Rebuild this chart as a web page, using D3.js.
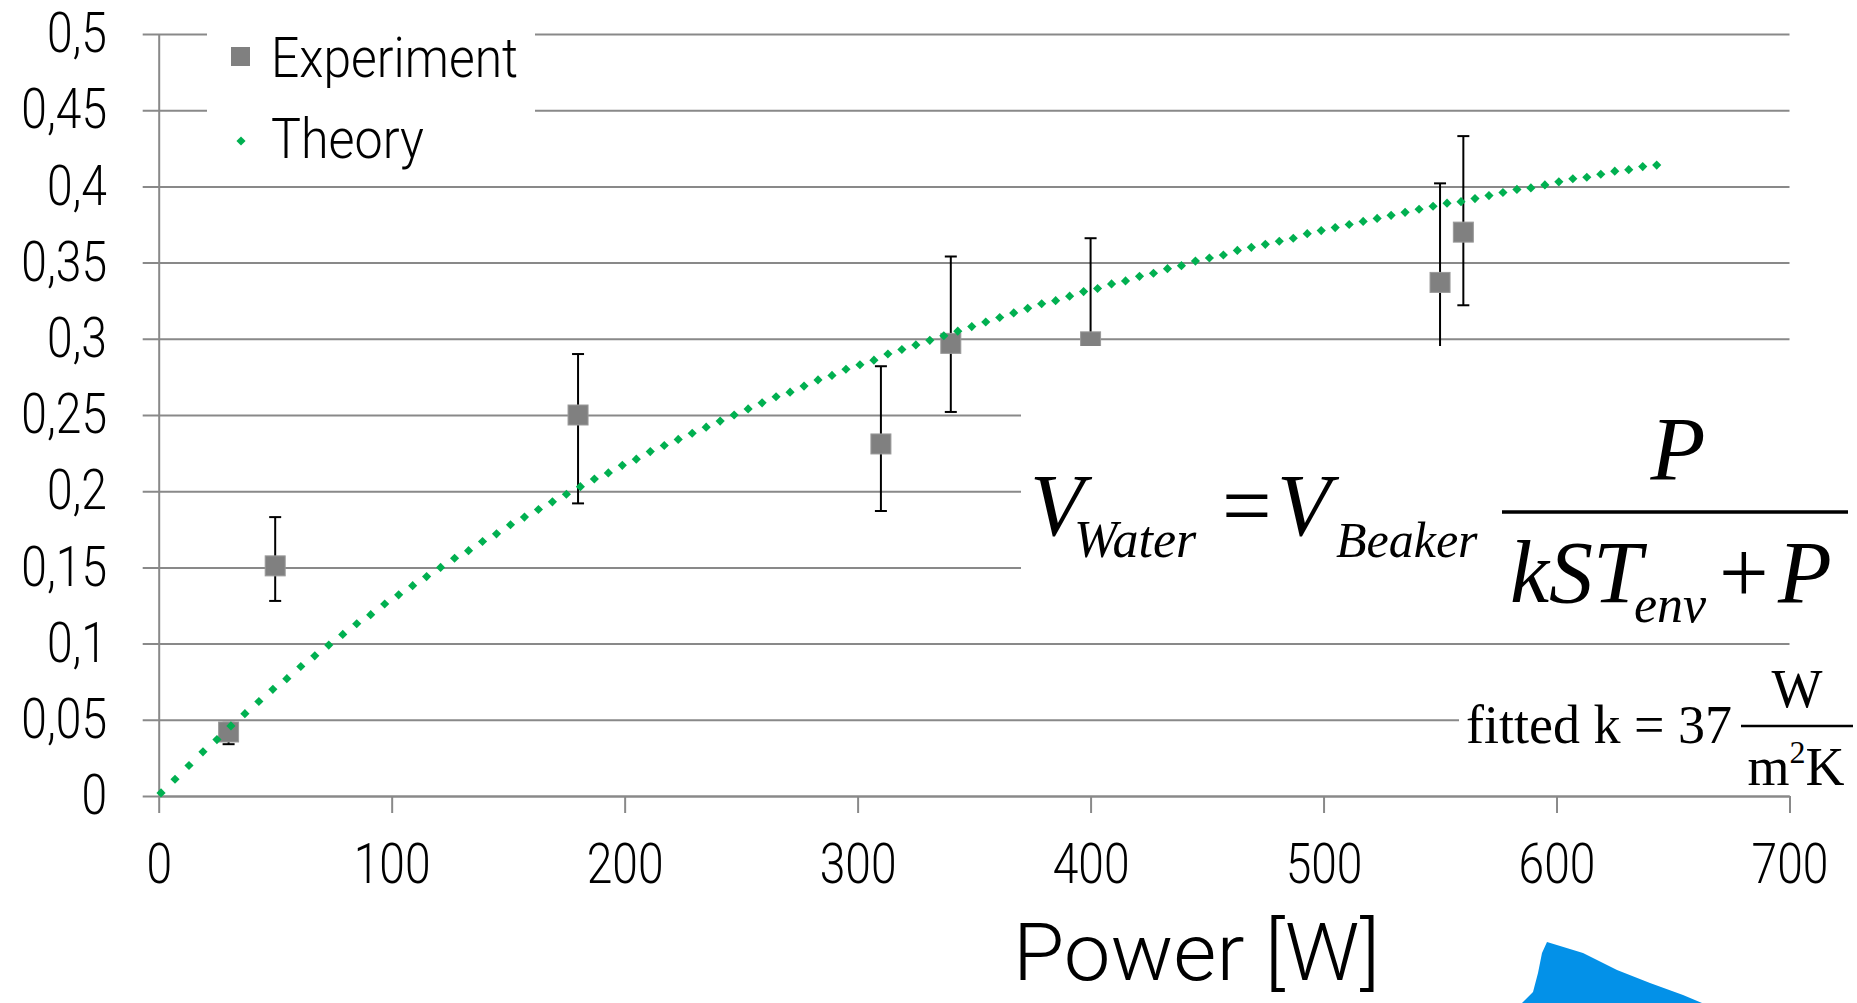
<!DOCTYPE html>
<html>
<head>
<meta charset="utf-8">
<script src="https://d3js.org/d3.v7.min.js"></script>
<style>
  body { margin: 0; background: #fff; }
  svg { display: block; }
  .tick text { font-family: Roboto, sans-serif; font-weight: 300; fill: #000; }
  .eq { font-family: "Liberation Serif", "Times New Roman", serif; fill: #000; }
</style>
</head>
<body>
<div id="chart"></div>
<script>
// measured points (power in W, volume fraction) with error bar ends
var expPower  = [30, 50, 180, 310, 340, 400, 550, 560];
var expVolume = [0.042, 0.151, 0.250, 0.231, 0.297, 0.298, 0.337, 0.370];
var expUpper  = [0.048, 0.183, 0.290, 0.282, 0.354, 0.366, 0.402, 0.433];
var expLower  = [0.034, 0.128, 0.192, 0.187, 0.252, 0.264, 0.294, 0.322];

// theory markers
var theoryPower = [1,7,13,19,25,31,37,43,49,55,
  61,67,73,79,85,91,97,103,109,115,
  121,127,133,139,145,151,157,163,169,175,
  181,187,193,199,205,211,217,223,229,235,
  241,247,253,259,265,271,277,283,289,295,
  301,307,313,319,325,331,337,343,349,355,
  361,367,373,379,385,391,397,403,409,415,
  421,427,433,439,445,451,457,463,469,475,
  481,487,493,499,505,511,517,523,529,535,
  541,547,553,559,565,571,577,583,589,595,
  601,607,613,619,625,631,637,643];
var theoryVolume = [0.002,0.011,0.020,0.029,0.037,0.046,0.054,0.062,0.070,0.077,
  0.085,0.092,0.099,0.106,0.113,0.119,0.126,0.132,0.138,0.144,
  0.150,0.156,0.161,0.167,0.172,0.178,0.183,0.188,0.193,0.198,
  0.203,0.208,0.212,0.217,0.221,0.226,0.230,0.234,0.238,0.242,
  0.246,0.250,0.254,0.258,0.262,0.265,0.269,0.273,0.276,0.280,
  0.283,0.286,0.290,0.293,0.296,0.299,0.302,0.305,0.308,0.311,
  0.314,0.317,0.320,0.323,0.325,0.328,0.331,0.333,0.336,0.338,
  0.341,0.343,0.346,0.348,0.351,0.353,0.355,0.358,0.360,0.362,
  0.364,0.366,0.369,0.371,0.373,0.375,0.377,0.379,0.381,0.383,
  0.385,0.387,0.389,0.390,0.392,0.394,0.396,0.398,0.399,0.401,
  0.403,0.405,0.406,0.408,0.410,0.411,0.413,0.414];

var xTicks = [0, 100, 200, 300, 400, 500, 600, 700];
var yTicks = [0, 0.05, 0.1, 0.15, 0.2, 0.25, 0.3, 0.35, 0.4, 0.45, 0.5];
var seriesNames = ['Experiment', 'Theory'];

var width = 1857,
    height = 1003,
    margin = { top: 34, left: 158.7 },
    plotW = 1630.8,
    plotH = 762,
    squeeze = 0.84,
    gridColor = '#898989';

var svg = d3.select('#chart')
  .append('svg')
  .attr('width', width)
  .attr('height', height);

var xScale = d3.scaleLinear().domain([0, 700]).range([0, plotW]);
var yScale = d3.scaleLinear().domain([0, 0.5]).range([plotH, 0]);

var plot = svg.append('g')
  .attr('transform', `translate(${margin.left}, ${margin.top})`);

// y axis + horizontal gridlines
var yAxis = d3.axisLeft(yScale)
  .tickValues(yTicks)
  .tickSizeInner(-plotW)
  .tickSizeOuter(0)
  .tickFormat(d => d === 0 ? '0' : String(d).replace('.', ','));

var gy = plot.append('g').attr('class', 'y-axis').call(yAxis);
gy.select('.domain').attr('stroke', gridColor).attr('stroke-width', 2);
gy.selectAll('.tick line')
  .attr('x1', -16)
  .attr('stroke', gridColor)
  .attr('stroke-width', 2);
gy.selectAll('.tick text')
  .attr('x', -51.7 / squeeze)
  .attr('dy', '0.32em')
  .attr('transform', `scale(${squeeze},1)`)
  .style('font-size', '55px');

// x axis
var xAxis = d3.axisBottom(xScale)
  .tickValues(xTicks)
  .tickSizeInner(17)
  .tickSizeOuter(0)
  .tickPadding(30.5)
  .tickFormat(d3.format('d'));

var gx = plot.append('g')
  .attr('class', 'x-axis')
  .attr('transform', `translate(0, ${plotH})`)
  .call(xAxis);
gx.select('.domain').attr('stroke', gridColor).attr('stroke-width', 2);
gx.selectAll('.tick line').attr('stroke', gridColor).attr('stroke-width', 2);
gx.selectAll('.tick text')
  .attr('transform', `scale(${squeeze},1)`)
  .style('font-size', '55px');

// white text boxes over the grid
svg.append('rect').attr('x', 207).attr('y', 8).attr('width', 328).attr('height', 170).attr('fill', '#fff');
svg.append('rect').attr('x', 1021).attr('y', 346).attr('width', 836).attr('height', 288).attr('fill', '#fff');
svg.append('rect').attr('x', 1459).attr('y', 655).attr('width', 398).attr('height', 132).attr('fill', '#fff');

// error bars
var bars = plot.append('g').selectAll('g')
  .data(expPower)
  .enter()
  .append('g')
  .attr('stroke', '#000')
  .attr('stroke-width', 2);

bars.append('line')
  .attr('x1', d => xScale(d)).attr('x2', d => xScale(d))
  .attr('y1', (d, i) => yScale(expUpper[i]))
  .attr('y2', (d, i) => yScale(expLower[i]));
bars.append('line')
  .attr('x1', d => xScale(d) - 6).attr('x2', d => xScale(d) + 6)
  .attr('y1', (d, i) => yScale(expUpper[i]))
  .attr('y2', (d, i) => yScale(expUpper[i]));
bars.append('line')
  .attr('x1', d => xScale(d) - 6).attr('x2', d => xScale(d) + 6)
  .attr('y1', (d, i) => yScale(expLower[i]))
  .attr('y2', (d, i) => yScale(expLower[i]));

// experiment squares
plot.append('g').selectAll('rect')
  .data(expPower)
  .enter()
  .append('rect')
  .attr('x', d => xScale(d) - 10)
  .attr('y', (d, i) => yScale(expVolume[i]) - 10)
  .attr('width', 20)
  .attr('height', 20)
  .attr('fill', '#808080')
  .attr('stroke', '#9a9a9a')
  .attr('stroke-width', 1);

// theory markers (small diamonds)
var diamond = d3.symbol().type(d3.symbolSquare).size(42);
plot.append('g').selectAll('path')
  .data(theoryPower)
  .enter()
  .append('path')
  .attr('d', diamond)
  .attr('transform', (d, i) => `translate(${xScale(d)}, ${yScale(theoryVolume[i])}) rotate(45)`)
  .attr('fill', '#00b050');

// legend
var legend = svg.append('g').attr('id', 'legend');
legend.append('rect')
  .attr('x', 231).attr('y', 47).attr('width', 19).attr('height', 19)
  .attr('fill', '#808080');
legend.append('path')
  .attr('d', diamond)
  .attr('transform', 'translate(241, 141) rotate(45)')
  .attr('fill', '#00b050');
legend.selectAll('text')
  .data(seriesNames)
  .enter()
  .append('text')
  .attr('x', 271)
  .attr('y', (d, i) => i === 0 ? 77 : 158)
  .attr('textLength', (d, i) => i === 0 ? 247 : 153)
  .attr('lengthAdjust', 'spacingAndGlyphs')
  .style('font-family', 'Roboto, sans-serif')
  .style('font-weight', 300)
  .style('font-size', '55px')
  .text(d => d);

// axis title
svg.append('text')
  .attr('x', 1013)
  .attr('y', 980)
  .attr('textLength', 367)
  .attr('lengthAdjust', 'spacingAndGlyphs')
  .style('font-family', 'Roboto, sans-serif')
  .style('font-weight', 300)
  .style('font-size', '80px')
  .text('Power [W]');

// formula
var eq = svg.append('g').attr('class', 'eq');
function put(txt, x, y, size, italic, anchor) {
  eq.append('text')
    .attr('x', x).attr('y', y)
    .attr('text-anchor', anchor || 'start')
    .style('font-size', size + 'px')
    .style('font-style', italic ? 'italic' : 'normal')
    .text(txt);
}
put('V', 1030, 535, 88, true);
put('Water', 1074, 557, 52, true);
put('=', 1222, 535, 88, false);
put('V', 1277, 535, 88, true);
put('Beaker', 1336, 557, 50, true);
eq.append('line').attr('x1', 1502).attr('x2', 1848).attr('y1', 512).attr('y2', 512)
  .attr('stroke', '#000').attr('stroke-width', 3.5);
put('P', 1678, 480, 90, true, 'middle');
put('kST', 1510, 602, 88, true);
put('env', 1634, 622, 52, true);
put('+', 1719, 602, 88, false);
put('P', 1778, 602, 88, true);

put('fitted k = 37', 1466, 743, 54, false);
eq.append('line').attr('x1', 1741).attr('x2', 1853).attr('y1', 726).attr('y2', 726)
  .attr('stroke', '#000').attr('stroke-width', 2.5);
put('W', 1797, 707, 54, false, 'middle');
var mk = eq.append('text').attr('x', 1796).attr('y', 785).attr('text-anchor', 'middle').style('font-size', '54px');
mk.append('tspan').text('m');
mk.append('tspan').attr('dy', -22).style('font-size', '32px').text('2');
mk.append('tspan').attr('dy', 22).text('K');

// blue shape peeking in at the bottom
svg.append('path')
  .attr('d', 'M1547,942 L1583,953 L1617,970 L1650,983 L1683,995 L1702,1003 L1522,1003 L1533,992 L1538,973 L1542,953 Z')
  .attr('fill', '#0391e8');
</script>
</body>
</html>
